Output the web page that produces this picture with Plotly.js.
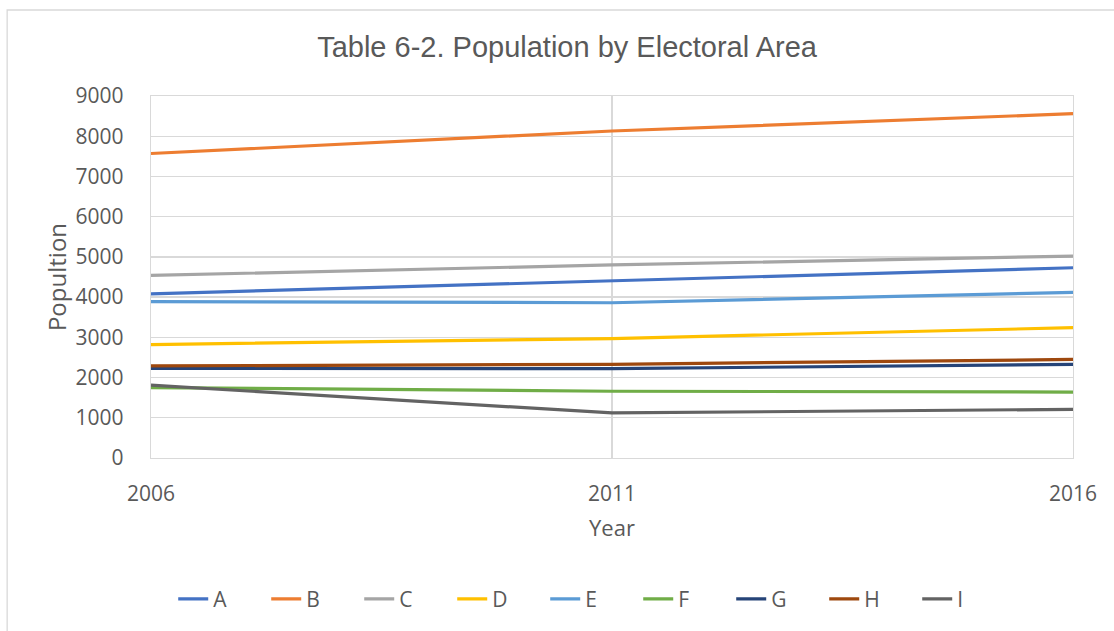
<!DOCTYPE html>
<html>
<head>
<meta charset="utf-8">
<script src="https://cdn.plot.ly/plotly-3.0.1.min.js"></script>
<style>
  body { margin: 0; background: #fff; }
  #chart { width: 1114px; height: 631px; }
</style>
</head>
<body>
<div id="chart"></div>
<script>
'use strict'

// years on the x axis
let years = [2006, 2011, 2016]

// population per electoral area
let areaA = [4080, 4400, 4730]
let areaB = [7570, 8130, 8560]
let areaC = [4540, 4800, 5020]
let areaD = [2820, 2970, 3240]
let areaE = [3890, 3860, 4120]
let areaF = [1750, 1660, 1640]
let areaG = [2230, 2220, 2330]
let areaH = [2290, 2330, 2450]
let areaI = [1810, 1120, 1210]

let names = ['A', 'B', 'C', 'D', 'E', 'F', 'G', 'H', 'I']
let values = [areaA, areaB, areaC, areaD, areaE, areaF, areaG, areaH, areaI]
let colors = ['#4472C4', '#ED7D31', '#A5A5A5', '#FFC000', '#5B9BD5',
              '#70AD47', '#264478', '#9E480E', '#636363']

let yTicks = [0, 1000, 2000, 3000, 4000, 5000, 6000, 7000, 8000, 9000]

let textColor = '#595959'
let gridColor = '#d9d9d9'
let tickFont = {family: 'Open Sans, sans-serif', size: 21, color: textColor}

let traces = []
for (let i = 0; i < names.length; i++) {
  traces.push({
    x: years,
    y: values[i],
    name: names[i],
    type: 'scatter',
    mode: 'lines',
    line: {color: colors[i], width: 3.2}
  })
}

let layout = {
  width: 1114,
  height: 631,
  margin: {l: 151, r: 41, t: 96, b: 173},
  paper_bgcolor: '#fff',
  plot_bgcolor: '#fff',
  showlegend: true,
  title: {
    text: 'Table 6-2. Population by Electoral Area',
    font: {family: 'Liberation Sans, Arial, sans-serif', size: 29, color: textColor},
    x: 0.509, xanchor: 'center', y: 0.925, yanchor: 'middle'
  },
  xaxis: {
    range: [2006, 2016],
    tickvals: years,
    ticktext: years.map(String),
    showgrid: true,
    gridcolor: gridColor,
    gridwidth: 1.3,
    zeroline: false,
    showline: true,
    mirror: true,
    linecolor: gridColor,
    linewidth: 1.3,
    ticks: '',
    ticklabelstandoff: 16,
    tickfont: tickFont,
    title: {text: 'Year', font: {family: 'Open Sans, sans-serif', size: 22, color: textColor}, standoff: 15}
  },
  yaxis: {
    range: [0, 9000],
    tickvals: yTicks,
    showgrid: true,
    gridcolor: gridColor,
    gridwidth: 1.3,
    zeroline: false,
    showline: true,
    mirror: true,
    linecolor: gridColor,
    linewidth: 1.3,
    ticks: '',
    ticklabelstandoff: 22,
    tickfont: tickFont,
    title: {text: 'Popultion', font: {family: 'Open Sans, sans-serif', size: 24, color: textColor}, standoff: 2}
  },
  legend: {
    orientation: 'h',
    x: 0.478, xanchor: 'center',
    y: -0.39, yanchor: 'middle',
    font: tickFont,
    entrywidth: 48,
    entrywidthmode: 'pixels',
    tracegroupgap: 0
  },
  shapes: [{
    type: 'rect', xref: 'paper', yref: 'paper',
    x0: -0.156, x1: 1.2, y0: -0.7, y1: 1.2376,
    line: {color: gridColor, width: 1.3},
    layer: 'below'
  }]
}

Plotly.newPlot('chart', traces, layout, {displayModeBar: false, staticPlot: true})
</script>
</body>
</html>
